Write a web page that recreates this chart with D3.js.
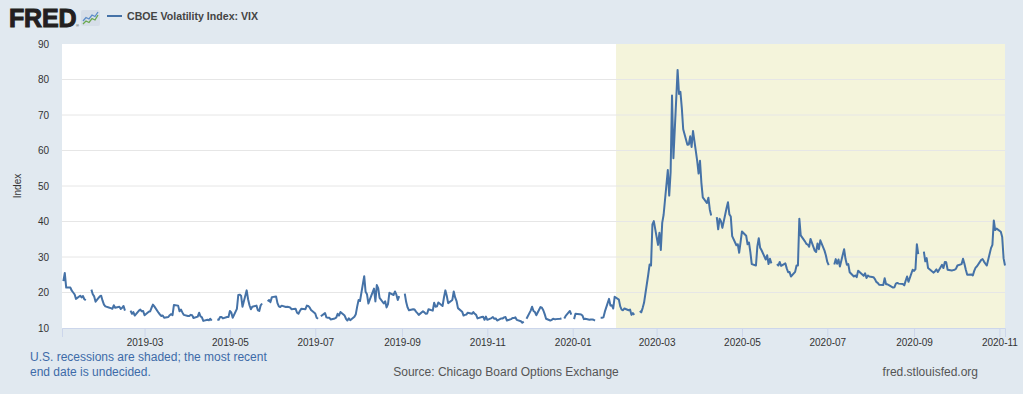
<!DOCTYPE html>
<html>
<head>
<meta charset="utf-8">
<script src="https://cdn.jsdelivr.net/npm/d3@7"></script>
<style>
  body { margin: 0; background: #e1e9f0; }
  svg { display: block; font-family: "Liberation Sans", Arial, Helvetica, sans-serif; }
</style>
</head>
<body>
<svg id="chart" width="1023" height="394"></svg>
<script>
// trading days per month (null value = market holiday, drawn as a gap)
const months = ["2019-01","2019-02","2019-03","2019-04","2019-05","2019-06","2019-07","2019-08",
  "2019-09","2019-10","2019-11","2019-12","2020-01","2020-02","2020-03","2020-04","2020-05",
  "2020-06","2020-07","2020-08","2020-09","2020-10","2020-11"]

const days = [
  [2,3,4,7,8,9,10,11,14,15,16,17,18,21,22,23,24,25,28,29,30,31],
  [1,4,5,6,7,8,11,12,13,14,15,18,19,20,21,22,25,26,27,28],
  [1,4,5,6,7,8,11,12,13,14,15,18,19,20,21,22,25,26,27,28,29],
  [1,2,3,4,5,8,9,10,11,12,15,16,17,18,19,22,23,24,25,26,29,30],
  [1,2,3,6,7,8,9,10,13,14,15,16,17,20,21,22,23,24,27,28,29,30,31],
  [3,4,5,6,7,10,11,12,13,14,17,18,19,20,21,24,25,26,27,28],
  [1,2,3,4,5,8,9,10,11,12,15,16,17,18,19,22,23,24,25,26,29,30,31],
  [1,2,5,6,7,8,9,12,13,14,15,16,19,20,21,22,23,26,27,28,29,30],
  [2,3,4,5,6,9,10,11,12,13,16,17,18,19,20,23,24,25,26,27,30],
  [1,2,3,4,7,8,9,10,11,14,15,16,17,18,21,22,23,24,25,28,29,30,31],
  [1,4,5,6,7,8,11,12,13,14,15,18,19,20,21,22,25,26,27,28,29],
  [2,3,4,5,6,9,10,11,12,13,16,17,18,19,20,23,24,25,26,27,30,31],
  [1,2,3,6,7,8,9,10,13,14,15,16,17,20,21,22,23,24,27,28,29,30,31],
  [3,4,5,6,7,10,11,12,13,14,17,18,19,20,21,24,25,26,27,28],
  [2,3,4,5,6,9,10,11,12,13,16,17,18,19,20,23,24,25,26,27,30,31],
  [1,2,3,6,7,8,9,10,13,14,15,16,17,20,21,22,23,24,27,28,29,30],
  [1,4,5,6,7,8,11,12,13,14,15,18,19,20,21,22,25,26,27,28,29],
  [1,2,3,4,5,8,9,10,11,12,15,16,17,18,19,22,23,24,25,26,29,30],
  [1,2,3,6,7,8,9,10,13,14,15,16,17,20,21,22,23,24,27,28,29,30,31],
  [3,4,5,6,7,10,11,12,13,14,17,18,19,20,21,24,25,26,27,28,31],
  [1,2,3,4,7,8,9,10,11,14,15,16,17,18,21,22,23,24,25,28,29,30],
  [1,2,5,6,7,8,9,12,13,14,15,16,19,20,21,22,23,26,27,28,29,30],
  [2,3,4,5]
]

const vix = [
  [23.2,25.5,21.4,21.4,20.5,20.0,19.5,18.2,19.1,18.6,19.0,18.1,17.8,null,20.8,19.5,18.9,17.4,18.9,19.1,17.7,16.6],
  [16.1,15.7,15.6,15.4,16.4,15.7,16.0,15.4,15.7,16.2,14.9,null,14.9,14.0,14.5,13.5,14.9,15.2,14.7,14.8],
  [13.6,14.6,14.7,15.7,16.6,16.1,14.3,13.8,13.4,13.5,12.9,13.1,13.6,13.9,13.6,16.5,16.3,14.7,15.2,14.4,13.7],
  [13.4,13.4,13.7,13.6,12.8,13.2,14.3,13.3,13.0,12.0,12.3,12.2,12.6,12.1,null,12.4,12.3,13.1,13.1,12.7,13.1,13.1],
  [14.8,14.4,12.9,15.4,19.3,19.4,19.1,16.0,20.6,18.1,16.4,15.3,16.0,16.3,15.0,14.8,16.4,16.9,null,17.5,17.9,17.3,18.7],
  [18.9,17.0,16.1,15.9,16.3,15.9,16.0,15.9,15.8,15.3,15.4,14.3,14.0,14.8,15.4,15.3,16.3,16.2,15.8,15.1],
  [14.1,12.9,12.6,null,13.3,14.2,13.0,12.9,12.9,12.4,12.7,12.9,14.0,13.5,14.5,13.5,12.6,12.1,12.7,12.2,13.2,13.9,16.1],
  [17.9,17.6,24.6,20.2,19.5,16.9,18.0,21.1,17.5,22.1,21.2,18.5,16.9,17.5,15.8,16.7,19.9,19.3,20.3,19.4,17.9,19.0],
  [null,19.7,17.3,15.8,15.0,15.3,15.2,14.6,14.2,13.7,14.7,14.4,14.0,14.1,15.3,14.9,17.1,16.0,16.1,17.2,16.2],
  [18.6,20.6,19.1,17.0,17.9,20.3,18.6,17.6,15.6,14.6,13.5,13.7,13.8,14.3,14.0,14.5,14.0,13.7,12.7,13.1,13.2,12.3,13.2],
  [12.3,12.8,13.1,12.6,12.7,12.1,12.7,12.7,13.0,13.1,12.1,12.5,12.8,12.8,13.0,12.3,11.9,11.5,11.8,null,12.6],
  [14.9,16.0,14.8,14.5,13.6,15.9,15.7,15.0,13.9,12.6,12.1,12.3,12.6,12.5,12.5,12.6,12.7,null,12.7,13.4,14.8,13.8],
  [null,12.5,14.0,13.9,13.8,13.5,12.5,12.6,12.3,12.4,12.4,12.3,12.1,null,12.9,12.9,13.0,14.6,18.2,16.3,16.4,15.5,18.8],
  [18.0,16.1,15.2,15.0,15.5,15.0,15.2,13.7,14.2,13.7,null,14.8,14.4,15.6,17.1,25.0,27.9,27.6,39.2,40.1],
  [33.4,36.8,32.0,39.6,41.9,54.5,47.3,53.9,75.5,57.8,82.7,75.9,76.5,72.0,66.0,61.6,61.7,64.0,61.0,65.5,57.1,53.5],
  [57.1,50.9,46.8,45.2,46.7,43.4,41.7,null,41.2,37.8,40.8,40.1,38.2,43.8,45.4,42.0,41.4,35.9,33.3,33.6,31.2,34.2],
  [37.2,36.0,33.6,34.1,31.4,28.0,27.6,33.0,35.3,32.6,31.9,29.3,30.5,28.0,29.5,28.2,null,28.0,27.6,28.6,27.5],
  [28.2,26.8,25.7,25.8,24.5,25.8,27.6,27.6,40.8,36.1,34.4,33.7,33.5,32.9,35.1,31.8,31.4,33.8,32.2,34.7,31.8,30.4],
  [28.6,27.7,null,27.9,29.4,28.1,29.3,27.3,32.2,29.5,27.8,28.0,25.7,24.5,24.8,24.3,26.1,25.8,24.7,25.4,24.1,24.8,24.5],
  [24.3,23.8,23.0,22.7,22.2,22.1,24.0,22.3,22.3,22.1,21.4,21.5,22.5,22.7,22.5,22.4,22.0,23.3,24.5,23.0,26.4],
  [26.1,26.6,33.6,30.8,null,31.5,28.8,29.7,26.9,25.9,25.6,26.0,26.5,25.8,27.8,26.9,28.6,28.5,26.4,26.2,26.3,26.4],
  [26.7,27.6,28.0,29.5,28.1,26.4,25.0,25.1,24.8,26.1,27.0,27.4,29.2,29.4,28.7,28.1,27.6,32.5,33.4,40.3,37.6,38.0],
  [37.1,35.6,29.6,27.6]
]

const yTicks = [10, 20, 30, 40, 50, 60, 70, 80, 90]
const xTicks = ["2019-03","2019-05","2019-07","2019-09","2019-11","2020-01",
  "2020-03","2020-05","2020-07","2020-09","2020-11"]
const xDomain = ["2019-01-01", "2020-11-05"]
const recession = ["2020-02-01", "2020-11-05"]

const seriesName = "CBOE Volatility Index: VIX"
const yTitle = "Index"
const noteLines = ["U.S. recessions are shaded; the most recent", "end date is undecided."]
const sourceText = "Source: Chicago Board Options Exchange"
const siteText = "fred.stlouisfed.org"

const parseDay = d3.utcParse("%Y-%m-%d")
const parseMonth = d3.utcParse("%Y-%m")

let points = []
months.forEach((m, i) => {
  days[i].forEach((dd, j) => {
    points.push({ date: parseDay(m + "-" + String(dd).padStart(2, "0")), value: vix[i][j] })
  })
  if (days[i].length !== vix[i].length) console.warn("length mismatch", m)
})

const plotLeft = 62, plotRight = 1005, plotTop = 44, plotBottom = 328
const lineColor = "#4572a7"

const x = d3.scaleUtc().domain(xDomain.map(parseDay)).range([plotLeft, plotRight])
const y = d3.scaleLinear().domain([10, 90]).range([plotBottom, plotTop])

const svg = d3.select("#chart")

svg.append("rect")
  .attr("width", 1023).attr("height", 394)
  .attr("fill", "#e1e9f0")

// plot background
svg.append("rect")
  .attr("x", plotLeft).attr("y", plotTop)
  .attr("width", plotRight - plotLeft).attr("height", plotBottom - plotTop)
  .attr("fill", "#ffffff")

// recession shading
svg.append("rect")
  .attr("x", x(parseDay(recession[0])))
  .attr("y", plotTop)
  .attr("width", x(parseDay(recession[1])) - x(parseDay(recession[0])))
  .attr("height", plotBottom - plotTop)
  .attr("fill", "#f4f4db")

// horizontal grid
svg.append("g")
  .selectAll("line")
  .data(yTicks.filter(t => t > 10 && t < 90))
  .join("line")
  .attr("x1", plotLeft).attr("x2", plotRight)
  .attr("y1", d => y(d)).attr("y2", d => y(d))
  .attr("stroke", "#e6e6e6")
  .attr("stroke-width", 1)

// y axis
const yAxis = svg.append("g")
  .attr("transform", `translate(${plotLeft},0)`)
  .call(d3.axisLeft(y).tickValues(yTicks).tickSize(0).tickPadding(13))
yAxis.select(".domain").remove()
yAxis.selectAll("text")
  .attr("fill", "#333")
  .style("font-size", "10px")
  .style("font-family", "Liberation Sans, Arial, sans-serif")

svg.append("text")
  .attr("transform", "translate(21,186) rotate(-90)")
  .attr("text-anchor", "middle")
  .attr("fill", "#333")
  .style("font-size", "10px")
  .text(yTitle)

// x axis
const xAxis = svg.append("g")
  .attr("transform", `translate(0,${plotBottom})`)
  .call(d3.axisBottom(x)
    .tickValues(xTicks.map(parseMonth))
    .tickSize(9)
    .tickPadding(2)
    .tickFormat(d3.utcFormat("%Y-%m")))
xAxis.select(".domain").attr("stroke", "#ccd6eb")
xAxis.selectAll(".tick line").attr("stroke", "#ccd6eb")
xAxis.selectAll("text")
  .attr("fill", "#333")
  .style("font-size", "10px")
  .style("font-family", "Liberation Sans, Arial, sans-serif")

// the series
const line = d3.line()
  .defined(d => d.value != null)
  .x(d => x(d.date))
  .y(d => y(d.value))

svg.append("path")
  .datum(points)
  .attr("fill", "none")
  .attr("stroke", lineColor)
  .attr("stroke-width", 2)
  .attr("stroke-linejoin", "round")
  .attr("d", line)

// header: FRED logo + legend
svg.append("text")
  .attr("x", 9).attr("y", 27)
  .attr("fill", "#231f20")
  .attr("stroke", "#231f20")
  .attr("stroke-width", 1)
  .style("font-size", "25px")
  .style("font-weight", "bold")
  .style("letter-spacing", "-0.2px")
  .text("FRED")

svg.append("text")
  .attr("x", 76).attr("y", 27)
  .attr("fill", "#231f20")
  .style("font-size", "4px")
  .text("®")

const icon = svg.append("g").attr("transform", "translate(81,10)")
icon.append("rect")
  .attr("width", 19).attr("height", 16).attr("rx", 2)
  .attr("fill", "#d6dee8")
icon.append("polyline")
  .attr("points", "2,14 5,11 8,12.5 11,8.5 14,10 17,5")
  .attr("fill", "none").attr("stroke", "#6aa84f").attr("stroke-width", 1.3)
icon.append("polyline")
  .attr("points", "2,11 5,7.5 8,9 11,5 14,6.5 17,2")
  .attr("fill", "none").attr("stroke", "#5b8cc8").attr("stroke-width", 1.3)

svg.append("line")
  .attr("x1", 107).attr("x2", 122)
  .attr("y1", 16).attr("y2", 16)
  .attr("stroke", lineColor).attr("stroke-width", 2)

svg.append("text")
  .attr("x", 127).attr("y", 20)
  .attr("fill", "#444")
  .style("font-size", "10.6px")
  .style("font-weight", "bold")
  .text(seriesName)

// footer
svg.append("g")
  .selectAll("text")
  .data(noteLines)
  .join("text")
  .attr("x", 30)
  .attr("y", (d, i) => 361 + i * 15)
  .attr("fill", "#3d6ba8")
  .style("font-size", "12px")
  .text(d => d)

svg.append("text")
  .attr("x", 506).attr("y", 376)
  .attr("text-anchor", "middle")
  .attr("fill", "#555")
  .style("font-size", "12px")
  .text(sourceText)

svg.append("text")
  .attr("x", 978).attr("y", 376)
  .attr("text-anchor", "end")
  .attr("fill", "#555")
  .style("font-size", "12px")
  .text(siteText)
</script>
</body>
</html>
